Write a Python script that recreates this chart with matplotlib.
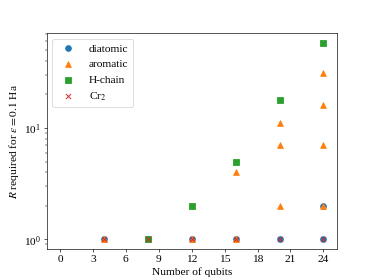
import numpy as np
import matplotlib
matplotlib.use("Agg")
import matplotlib.pyplot as plt

plt.rcParams['font.family'] = ['Liberation Serif', 'DejaVu Serif']
plt.rcParams['mathtext.fontset'] = 'stix'
plt.rcParams['font.size'] = 14

# qubit counts and R values
diatomic_q = [4, 8, 12, 16, 20, 24, 24]
diatomic_r = [1, 1, 1, 1, 1, 1, 2]
aromatic_q = [4, 12, 16, 16, 20, 20, 20, 24, 24, 24, 24]
aromatic_r = [1, 1, 1, 4, 2, 7, 11, 2, 7, 16, 31]
hchain_q = [8, 12, 16, 20, 24]
hchain_r = [1, 2, 5, 18, 58]
cr2_q = [4, 8, 12, 16, 20, 24]
cr2_r = [1, 1, 1, 1, 1, 1]

dpi = 374 / 6.4
fig, ax = plt.subplots(figsize=(6.4, 4.8), dpi=dpi)
ax.scatter(diatomic_q, diatomic_r, marker='o', s=50, label='diatomic')
ax.scatter(aromatic_q, aromatic_r, marker='^', s=50, label='aromatic')
ax.scatter(hchain_q, hchain_r, marker='s', s=50, label='H-chain')
ax.scatter(cr2_q, cr2_r, marker='x', s=40, linewidths=1.2, label='Cr$_2$')

ax.set_yscale('log')
ax.set_xlim(-1.2, 25.2)
ax.set_xticks(range(0, 25, 3))
ax.set_xlabel('Number of qubits')
ax.set_ylabel(r'$R$ required for $\varepsilon = 0.1$ Ha')
ax.legend(loc='upper left')

plt.savefig('out.png', dpi=dpi)
